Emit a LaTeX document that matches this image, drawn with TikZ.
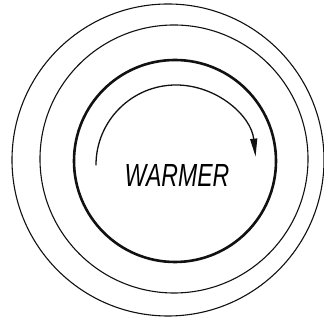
\documentclass[tikz,border=0pt]{standalone}
\usepackage{fontspec}
\setsansfont{Liberation Sans}
\usetikzlibrary{arrows.meta}
\definecolor{dialInk}{HTML}{111111}

\begin{document}
\begin{tikzpicture}[x=1pt,y=1pt,line cap=round,
    ring/.style={draw=dialInk,line width=1.1pt},
    knob/.style={draw=dialInk,line width=2.6pt},
    turn/.style={draw=dialInk,line width=1.3pt,-{Triangle[length=18pt,width=7pt]}}]
  \useasboundingbox (0,0) rectangle (324,320);
  % rings of the dial
  \draw[ring] (168,160) circle[radius=156];
  \draw[ring] (174,161) circle[radius=134];
  \draw[knob] (175,159) circle[radius=101];
  % turning direction
  \coordinate (turnstart) at (96,155);
  \draw[turn] (turnstart) arc[start angle=180,end angle=6,radius=80];
  \node (warmer) at (177,145)
    {\sffamily\itshape\fontsize{32}{32}\selectfont\scalebox{0.72}[1]{WARMER}};
\end{tikzpicture}
\end{document}
